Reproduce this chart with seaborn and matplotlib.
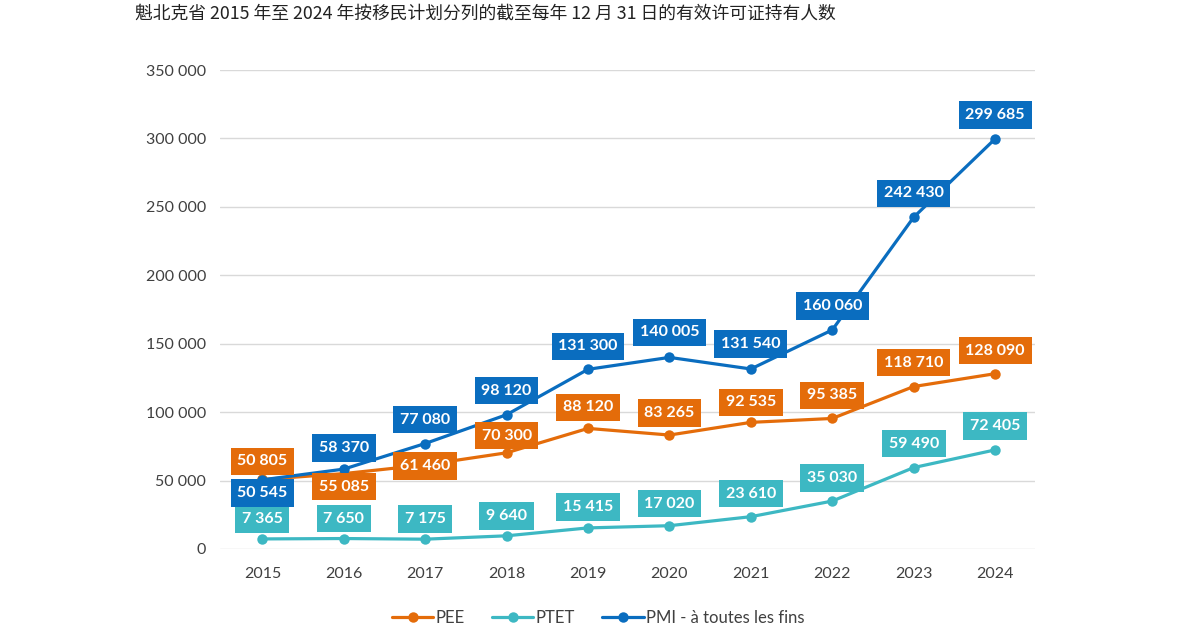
import numpy as np
import pandas as pd
import matplotlib
matplotlib.use("Agg")
import matplotlib.pyplot as plt
import seaborn as sns

# Data
years = [2015, 2016, 2017, 2018, 2019, 2020, 2021, 2022, 2023, 2024]
pee = [50805, 55085, 61460, 70300, 88120, 83265, 92535, 95385, 118710, 128090]
ptet = [7365, 7650, 7175, 9640, 15415, 17020, 23610, 35030, 59490, 72405]
pmi = [50545, 58370, 77080, 98120, 131300, 140005, 131540, 160060, 242430, 299685]
series_names = ["PEE", "PTET", "PMI - à toutes les fins"]
y_ticks = [0, 50000, 100000, 150000, 200000, 250000, 300000, 350000]
title = "魁北克省 2015 年至 2024 年按移民计划分列的截至每年 12 月 31 日的有效许可证持有人数"

colors = {"PEE": "#E46C0A", "PTET": "#3DB8C3", "PMI - à toutes les fins": "#0A6DBF"}

# label offsets in pixels (dy) relative to each point
pee_dy = [18, -13, -1, 17, 21, 22, 20, 23, 24, 23]
ptet_dy = [20, 20, 20, 20, 21, 22, 23, 23, 24, 24]
pmi_dy = [-13, 21, 24, 24, 23, 25, 25, 24, 24, 24]

df = pd.DataFrame({
    "year": years * 3,
    "value": pee + ptet + pmi,
    "series": [series_names[0]] * 10 + [series_names[1]] * 10 + [series_names[2]] * 10,
})
df["pos"] = df["year"] - years[0]

sns.set_theme(style="white")
plt.rcParams["font.family"] = ["Lato", "Noto Sans CJK SC", "DejaVu Sans"]

fig = plt.figure(figsize=(12, 6.29), dpi=100)
fig.patch.set_facecolor("white")
ax = fig.add_axes([220 / 1200, (629 - 549) / 629, (1035 - 220) / 1200, (549 - 70) / 629])

sns.lineplot(data=df, x="pos", y="value", hue="series", palette=colors,
             marker="o", markersize=7.5, markeredgewidth=0, linewidth=2.3, ax=ax,
             hue_order=series_names, zorder=3)

ax.set_xlim(-0.52, 9.49)
ax.set_ylim(0, 350000)
ax.set_yticks(y_ticks)
ax.set_yticklabels([f"{v:,}".replace(",", " ") for v in y_ticks])
ax.set_xticks(range(len(years)))
ax.set_xticklabels([str(y) for y in years])
ax.grid(axis="y", color="#d9d9d9", linewidth=1)
ax.set_axisbelow(True)
for s in ax.spines.values():
    s.set_visible(False)
ax.tick_params(axis="both", length=0, labelsize=11.5, colors="#404040")
ax.tick_params(axis="y", pad=10)
ax.tick_params(axis="x", pad=13)
ax.set_xlabel("")
ax.set_ylabel("")

def fmt(v):
    return f"{v:,}".replace(",", " ")

for name, vals, dys in [(series_names[0], pee, pee_dy), (series_names[1], ptet, ptet_dy),
                        (series_names[2], pmi, pmi_dy)]:
    for i, (v, dy) in enumerate(zip(vals, dys)):
        ax.annotate(fmt(v), (i, v), xytext=(0, dy), textcoords="offset pixels",
                    ha="center", va="center", fontsize=11.5, fontweight="bold", color="white",
                    bbox=dict(boxstyle="square,pad=0.42", fc=colors[name], ec="none"),
                    zorder=5)

leg = ax.legend(loc="upper center", bbox_to_anchor=(0.464, -0.095), ncol=3, frameon=False,
                fontsize=12, handlelength=2.5, columnspacing=1.6, handletextpad=0.15)
for t in leg.get_texts():
    t.set_color("#404040")

fig.text(135 / 1200, 1 - 14 / 629, title, ha="left", va="center", fontsize=12.8,
         color="#222222", family=["Noto Sans CJK SC", "DejaVu Sans"])

fig.savefig("out.png", dpi=100)
